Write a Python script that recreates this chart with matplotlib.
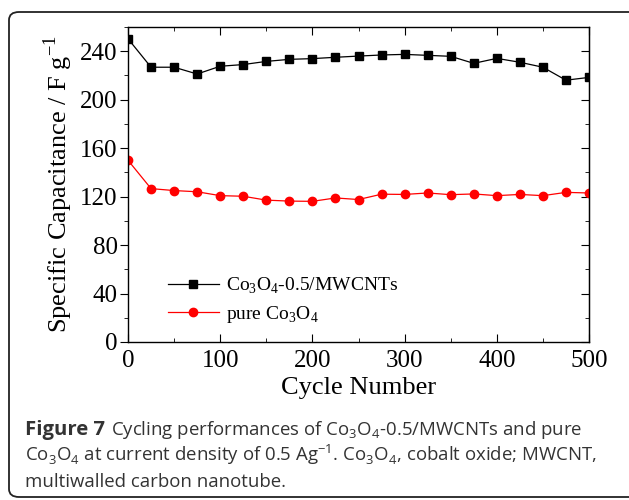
import numpy as np
import matplotlib
matplotlib.use("Agg")
from matplotlib import pyplot as plt
from matplotlib.patches import FancyBboxPatch

# cycling data
cycles = [0, 25, 50, 75, 100, 125, 150, 175, 200, 225, 250,
          275, 300, 325, 350, 375, 400, 425, 450, 475, 500]
cap_composite = [250.3, 226.8, 226.8, 221.2, 227.6, 229.0, 231.6, 233.3, 233.9, 235.0, 236.0,
                 236.9, 237.4, 236.6, 235.8, 230.0, 234.1, 230.9, 226.8, 216.1, 218.4]
cap_pure = [150.0, 126.6, 125.0, 124.0, 120.8, 120.3, 117.1, 116.3, 116.1, 118.9, 117.6,
            122.0, 121.8, 123.0, 121.6, 122.2, 120.8, 121.8, 120.8, 123.5, 123.0]

xticks = [0, 100, 200, 300, 400, 500]
yticks = [0, 40, 80, 120, 160, 200, 240]

label_composite = r"Co$_\mathregular{3}$O$_\mathregular{4}$-0.5/MWCNTs"
label_pure = r"pure Co$_\mathregular{3}$O$_\mathregular{4}$"

cap_bold = "Figure 7"
cap_line1 = r"Cycling performances of Co$_\mathregular{3}$O$_\mathregular{4}$-0.5/MWCNTs and pure"
cap_line2 = ("Co$_\\mathregular{3}$O$_\\mathregular{4}$ at current density of 0.5 Ag$^\\mathregular{\u22121}$. "
             "Co$_\\mathregular{3}$O$_\\mathregular{4}$, cobalt oxide; MWCNT,")
cap_line3 = "multiwalled carbon nanotube."

W, H = 629, 500
fig = plt.figure(figsize=(W / 100, H / 100), dpi=100)
plt.rcParams["font.family"] = "Liberation Serif"

# rounded frame around figure + caption
frame = FancyBboxPatch((9 / W, 3 / H), 640 / W, 485 / H,
                       boxstyle="round,pad=0,rounding_size=0.016",
                       transform=fig.transFigure, fill=False,
                       edgecolor="#222222", linewidth=1.3)
fig.patches.append(frame)

ax = fig.add_axes([128 / W, 1 - 342 / H, (589 - 128) / W, (342 - 27) / H])
ax.plot(cycles, cap_composite, color="black", marker="s", markersize=5.2,
        linewidth=0.9, label=label_composite)
ax.plot(cycles, cap_pure, color="red", marker="o", markersize=6.0,
        linewidth=0.9, label=label_pure)

ax.set_xlim(0, 500)
ax.set_ylim(0, 260)
ax.set_xticks(xticks)
ax.set_xticks(np.arange(0, 501, 50), minor=True)
ax.set_yticks(yticks)
ax.set_yticks(np.arange(0, 261, 20), minor=True)
ax.tick_params(axis="x", which="both", direction="in", top=True, labelsize=18, pad=6)
ax.tick_params(axis="x", which="major", length=5.5)
ax.tick_params(axis="x", which="minor", length=3)
ax.tick_params(axis="y", which="both", direction="out", labelsize=18, pad=2)
ax.tick_params(axis="y", which="major", length=5.5)
ax.tick_params(axis="y", which="minor", length=3)
for s in ax.spines.values():
    s.set_linewidth(1.0)

# right-side ticks point inward
sec = ax.secondary_yaxis("right")
sec.set_yticks(yticks)
sec.set_yticks(np.arange(0, 261, 20), minor=True)
sec.tick_params(which="both", direction="in", labelright=False)
sec.tick_params(which="major", length=5.5)
sec.tick_params(which="minor", length=3)

ax.set_xlabel("Cycle Number", fontsize=19, labelpad=3)
ax.set_ylabel(r"Specific Capacitance / F g$^\mathregular{-1}$", fontsize=19, labelpad=4)

ax.legend(loc="lower left", bbox_to_anchor=(0.07, 0.03), frameon=False,
          fontsize=14, handlelength=2.6, handletextpad=0.4, labelspacing=0.4,
          borderaxespad=0)

# caption, sized so the lines span the widths seen in the reference
cap_font = "Open Sans"
cap_color = "#333333"
x0 = 25


def fit_size(text, target_px, **kw):
    t = fig.text(0, 0, text, fontsize=10, family=cap_font, **kw)
    fig.canvas.draw()
    w = t.get_window_extent().width
    t.remove()
    return 10 * target_px / w


size_bold = fit_size(cap_bold, 80, fontweight="bold")
size_reg = fit_size(cap_line2, 571)

t1 = fig.text(x0 / W, 1 - 435 / H, cap_bold, fontsize=size_bold, fontweight="bold",
              family=cap_font, color=cap_color, va="baseline")
fig.canvas.draw()
bb = t1.get_window_extent()
fig.text((bb.x1 + 6) / W, 1 - 435 / H, cap_line1,
         fontsize=size_reg, family=cap_font, color=cap_color, va="baseline")
fig.text(x0 / W, 1 - 461 / H, cap_line2,
         fontsize=size_reg, family=cap_font, color=cap_color, va="baseline")
fig.text(x0 / W, 1 - 487 / H, cap_line3,
         fontsize=size_reg, family=cap_font, color=cap_color, va="baseline")

fig.savefig("out.png", dpi=100)
